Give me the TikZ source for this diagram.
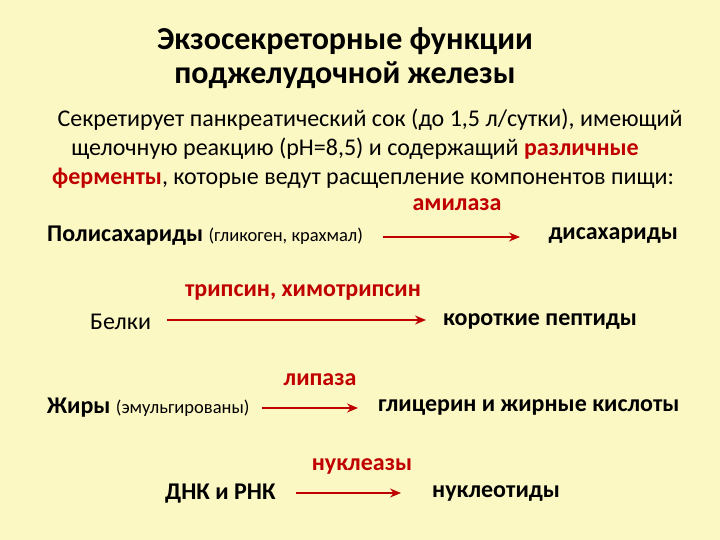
\documentclass[tikz,border=0pt]{standalone}
\usepackage{fontspec}
\setmainfont{Carlito}
\usetikzlibrary{arrows.meta}
\definecolor{bg}{HTML}{FCF8C4}
\definecolor{rd}{HTML}{C00000}
\begin{document}
\begin{tikzpicture}[x=1pt,y=-1pt,
  tx/.style={inner sep=0pt,font=\fontsize{24}{28}\selectfont},
  bt/.style={tx,font=\fontsize{24}{28}\selectfont\bfseries},
  rt/.style={bt,text=rd},
  ar/.style={draw=rd,line width=1.5pt,-{Stealth[length=11pt,width=9pt]}}]
\fill[bg] (0,0) rectangle (720,540);
\useasboundingbox (0,0) rectangle (720,540);
\node[inner sep=0pt,font=\fontsize{32}{34}\selectfont\bfseries,align=center] (title) at (345,58) {Экзосекреторные функции\\поджелудочной железы};
\node[tx] (l1) at (370,120) {Секретирует панкреатический сок (до 1,5 л/сутки), имеющий};
\node[tx] (l2) at (355,149) {щелочную реакцию (pH=8,5) и содержащий \textbf{\textcolor{rd}{различные}}};
\node[tx] (l3) at (363,178) {\textbf{\textcolor{rd}{ферменты}}, которые ведут расщепление компонентов пищи:};
\node[rt] (e1) at (457,205) {амилаза};
\node[bt,anchor=west] (a1) at (47,236) {Полисахариды \mdseries\fontsize{18.5}{20}\selectfont(гликоген, крахмал)};
\node[bt,anchor=east] (b1) at (678,236) {дисахариды};
\coordinate (s1) at (383,237); \coordinate (t1) at (520,237);
\draw[ar] (s1) -- (t1);
\node[rt] (e2) at (303,292) {трипсин, химотрипсин};
\node[tx,anchor=west] (a2) at (90,322) {Белки};
\node[bt,anchor=west] (b2) at (443,322) {короткие пептиды};
\coordinate (s2) at (167,320); \coordinate (t2) at (426,320);
\draw[ar] (s2) -- (t2);
\node[rt] (e3) at (320,380) {липаза};
\node[bt,anchor=west] (a3) at (47,408) {Жиры \mdseries\fontsize{18.5}{20}\selectfont(эмульгированы)};
\node[bt,anchor=west] (b3) at (378,408) {глицерин и жирные кислоты};
\coordinate (s3) at (262,408); \coordinate (t3) at (358,408);
\draw[ar] (s3) -- (t3);
\node[rt] (e4) at (362,466) {нуклеазы};
\node[bt,anchor=west] (a4) at (165,494) {ДНК и РНК};
\node[bt,anchor=west] (b4) at (432,494) {нуклеотиды};
\coordinate (s4) at (296,493); \coordinate (t4) at (401,493);
\draw[ar] (s4) -- (t4);
\end{tikzpicture}
\end{document}
